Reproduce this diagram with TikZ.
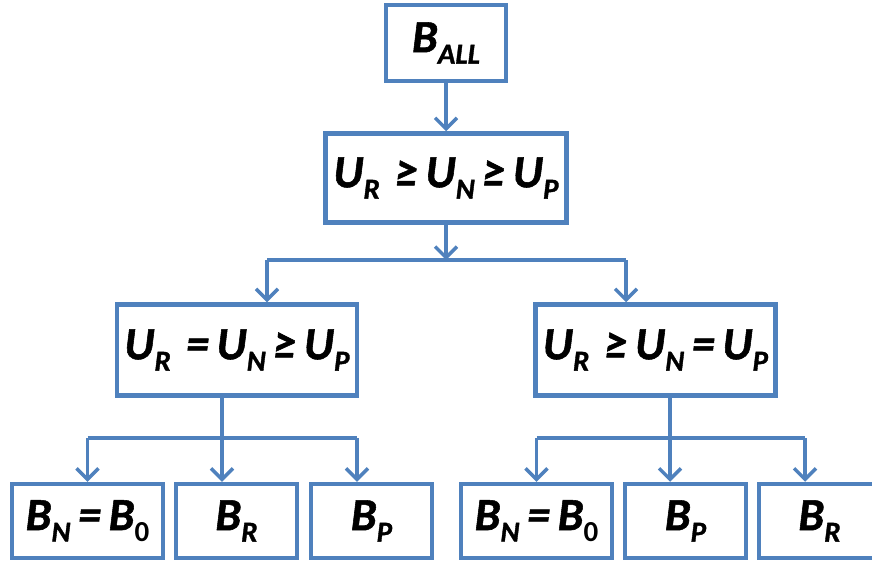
\documentclass[tikz,border=0pt]{standalone}
\usepackage{fontspec}
\setmainfont{Carlito}[BoldItalicFeatures={FakeBold=1.2}]
\usetikzlibrary{arrows.meta}
\definecolor{boxblue}{HTML}{4F81BD}
\newcommand{\vsub}[2]{#1\raisebox{-0.25em}{\fontsize{29}{29}\selectfont #2}}
\tikzset{
  box/.style={draw=boxblue, line width=4.5pt, fill=white, inner sep=0pt,
    font=\fontsize{46}{46}\selectfont\bfseries\itshape},
  conn/.style={draw=boxblue, line width=3.5pt},
  arr/.style={conn, -{Straight Barb[length=11pt, width=22pt, line width=3.5pt]}},
}
\begin{document}
\begin{tikzpicture}[x=1pt, y=-1pt]
\useasboundingbox (0,0) rectangle (872,565);
% nodes
\node[box, minimum width=120pt, minimum height=76pt] (top) at (446,43) {\vsub{B}{ALL}};
\node[box, minimum width=241pt, minimum height=89pt] (mid) at (446,178)
  {\vsub{U}{R}\,\,≥\,\vsub{U}{N}\,≥\,\vsub{U}{P}};
\node[box, minimum width=240pt, minimum height=91pt] (bl) at (237,350)
  {\vsub{U}{R}\,\,=\,\vsub{U}{N}\,≥\,\vsub{U}{P}};
\node[box, minimum width=240pt, minimum height=91pt] (br) at (655.5,350)
  {\vsub{U}{R}\,\,≥\,\vsub{U}{N}\,=\,\vsub{U}{P}};
\node[box, minimum width=151pt, minimum height=74pt] (l1) at (87.5,521) {\vsub{B}{N}\,=\,\vsub{B}{\upshape 0}};
\node[box, minimum width=121pt, minimum height=74pt] (l2) at (236.5,521) {\vsub{B}{R}};
\node[box, minimum width=121pt, minimum height=74pt] (l3) at (371.5,521) {\vsub{B}{P}};
\node[box, minimum width=151pt, minimum height=74pt] (r1) at (536.5,521) {\vsub{B}{N}\,=\,\vsub{B}{\upshape 0}};
\node[box, minimum width=121pt, minimum height=74pt] (r2) at (685.5,521) {\vsub{B}{P}};
\node[box, minimum width=121pt, minimum height=74pt] (r3) at (819.5,521) {\vsub{B}{R}};
% junction coordinates
\coordinate (j0) at (446,260);
\coordinate (jl) at (267,260);
\coordinate (jr) at (626,260);
\coordinate (kl) at (222,438);
\coordinate (kl1) at (87.5,438);
\coordinate (kl3) at (357,438);
\coordinate (kr) at (670,438);
\coordinate (kr1) at (536.5,438);
\coordinate (kr3) at (805,438);
% connectors
\draw[arr] (top) -- (mid);
\draw[conn] (jl) -- (jr);
\draw[arr] (mid) -- (j0);
\draw[arr] (jl) -- (jl |- bl.north);
\draw[arr] (jr) -- (jr |- br.north);
\draw[conn] (kl1) -- (kl3);
\draw[arr] (kl |- bl.south) -- (kl |- l2.north);
\draw[arr] (kl1) -- (l1);
\draw[arr] (kl3) -- (kl3 |- l3.north);
\draw[conn] (kr1) -- (kr3);
\draw[arr] (kr |- br.south) -- (kr |- r2.north);
\draw[arr] (kr1) -- (r1);
\draw[arr] (kr3) -- (kr3 |- r3.north);
\end{tikzpicture}
\end{document}
